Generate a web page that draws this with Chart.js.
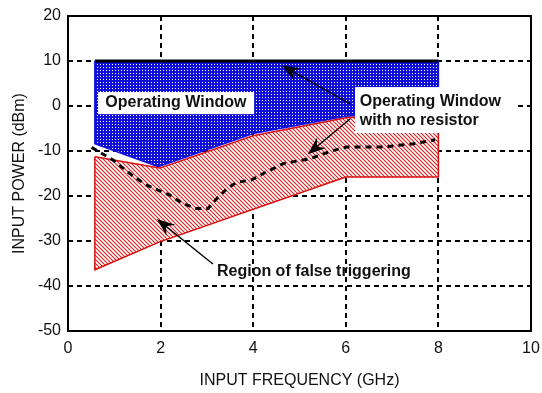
<!DOCTYPE html>
<html>
<head>
<meta charset="utf-8">
<script src="https://cdn.jsdelivr.net/npm/chart.js@4.4.0/dist/chart.umd.min.js"></script>
<style>
  body { margin: 0; background: #fff; }
  #wrap { width: 542px; height: 393px; }
</style>
</head>
<body>
<div id="wrap"><canvas id="chart" width="542" height="393"></canvas></div>
<script>
// Operating window (blue) outline, GHz / dBm
const windowX = [0.58, 8, 8, 6, 4, 1.95, 0.58, 0.58];
const windowY = [10, 10, -1, -2.3, -6.1, -13.5, -8.4, 10];

// Region of false triggering (red) outline
const falseX = [0.58, 1.98, 4, 6, 8, 8, 6, 1.98, 0.58, 0.58];
const falseY = [-11.3, -13.8, -6.6, -2.6, -1.3, -15.8, -15.8, -30.2, -36.4, -11.3];

// Top limit line
const limitX = [0.58, 8];
const limitY = [10, 10];

// Operating window with no resistor (dashed)
const noResX = [0.51, 0.97, 1.37, 1.7, 1.99, 2.2, 2.48, 2.78, 3.02, 3.21, 3.43, 3.64, 3.97, 4.22, 4.65, 5.23, 5.66, 6.02, 6.81, 7.46, 7.93];
const noResY = [-9.2, -12, -15.3, -17.6, -18.9, -19.8, -21.7, -22.8, -22.8, -20.6, -18.4, -17, -16.4, -15, -12.8, -11.7, -10.1, -9.1, -9.1, -8.4, -7.5];

const xTicks = [0, 2, 4, 6, 8, 10];
const yTicks = [20, 10, 0, -10, -20, -30, -40, -50];

const pts = (xs, ys) => xs.map((x, i) => ({ x: x, y: ys[i] }));

function makePattern(kind) {
    const c = document.createElement('canvas');
    const g = c.getContext('2d');
    if (kind === 'blue') {
        c.width = 3; c.height = 3;
        g.fillStyle = '#1010d8';
        g.fillRect(0, 0, 3, 3);
        g.fillStyle = '#ffffff';
        g.fillRect(1, 1, 1, 1);
    } else {
        c.width = 4; c.height = 4;
        g.fillStyle = '#ffffff';
        g.fillRect(0, 0, 4, 4);
        g.strokeStyle = '#e02020';
        g.lineWidth = 1.1;
        g.beginPath();
        g.moveTo(-1, -1); g.lineTo(5, 5);
        g.moveTo(-1, 3); g.lineTo(1, 5);
        g.moveTo(3, -1); g.lineTo(5, 1);
        g.stroke();
    }
    return g.createPattern(c, 'repeat');
}

// Notes and arrows, in data units
const arrows = [
    { from: [6.09, 0.5], to: [4.62, 9.0] },
    { from: [6.09, -2.9], to: [5.18, -10.7] },
    { from: [3.13, -35.1], to: [1.92, -25.1] }
];

const notesPlugin = {
    id: 'notes',
    afterDraw(chart) {
        const ctx = chart.ctx;
        const xs = chart.scales.x, ys = chart.scales.y;
        const px = v => xs.getPixelForValue(v);
        const py = v => ys.getPixelForValue(v);
        const a = chart.chartArea;
        ctx.save();

        // arrows
        ctx.strokeStyle = '#000';
        ctx.fillStyle = '#000';
        ctx.lineWidth = 1.4;
        arrows.forEach(ar => {
            const x1 = px(ar.from[0]), y1 = py(ar.from[1]);
            const x2 = px(ar.to[0]), y2 = py(ar.to[1]);
            const ang = Math.atan2(y2 - y1, x2 - x1);
            ctx.beginPath();
            ctx.moveTo(x1, y1);
            ctx.lineTo(x2 - 8 * Math.cos(ang), y2 - 8 * Math.sin(ang));
            ctx.stroke();
            const L = 18, W = 7;
            ctx.beginPath();
            ctx.moveTo(x2, y2);
            ctx.lineTo(x2 - L * Math.cos(ang) + W * Math.sin(ang), y2 - L * Math.sin(ang) - W * Math.cos(ang));
            ctx.lineTo(x2 - 0.65 * L * Math.cos(ang), y2 - 0.65 * L * Math.sin(ang));
            ctx.lineTo(x2 - L * Math.cos(ang) - W * Math.sin(ang), y2 - L * Math.sin(ang) + W * Math.cos(ang));
            ctx.closePath();
            ctx.fill();
        });

        // labels
        ctx.font = 'bold 16px "Liberation Sans", Arial, sans-serif';
        ctx.textBaseline = 'middle';
        ctx.fillStyle = '#fff';
        ctx.fillRect(px(0.65), py(3.1), px(4.02) - px(0.65), py(-1.8) - py(3.1));
        ctx.fillRect(px(6.2), py(4.2), px(9.72) - px(6.2), py(-6) - py(4.2));
        ctx.fillStyle = '#111';
        ctx.textAlign = 'center';
        ctx.fillText('Operating Window', px(2.33), py(0.67));
        ctx.textAlign = 'left';
        ctx.fillText('Operating Window', px(6.3), py(1.0));
        ctx.fillText('with no resistor', px(6.3), py(-3.3));
        ctx.textAlign = 'center';
        ctx.fillText('Region of false triggering', px(5.31), py(-36.9));

        // frame
        ctx.strokeStyle = '#000';
        ctx.lineWidth = 2;
        ctx.strokeRect(a.left, a.top, a.right - a.left, a.bottom - a.top);
        ctx.restore();
    }
};

const tickFont = { family: '"Liberation Sans", Arial, sans-serif', size: 16 };

new Chart(document.getElementById('chart').getContext('2d'), {
    type: 'line',
    data: {
        datasets: [
            {
                label: 'Operating Window',
                data: pts(windowX, windowY),
                borderColor: '#1010e0',
                borderWidth: 1.5,
                backgroundColor: makePattern('blue'),
                fill: 'shape',
                pointRadius: 0,
                tension: 0,
                order: 3
            },
            {
                label: 'Region of false triggering',
                data: pts(falseX, falseY),
                borderColor: '#d41010',
                borderWidth: 1.5,
                backgroundColor: makePattern('red'),
                fill: 'shape',
                pointRadius: 0,
                tension: 0,
                order: 2
            },
            {
                label: 'Limit',
                data: pts(limitX, limitY),
                borderColor: '#000',
                borderWidth: 3,
                fill: false,
                pointRadius: 0,
                order: 1
            },
            {
                label: 'Operating Window with no resistor',
                data: pts(noResX, noResY),
                borderColor: '#000',
                borderWidth: 3,
                borderDash: [6, 5],
                fill: false,
                pointRadius: 0,
                tension: 0,
                order: 0
            }
        ]
    },
    options: {
        responsive: false,
        animation: false,
        layout: { padding: { left: 6, right: 11, top: 16, bottom: 0 } },
        plugins: {
            legend: { display: false },
            tooltip: { enabled: false }
        },
        scales: {
            x: {
                type: 'linear',
                min: 0,
                max: 10,
                z: 1,
                afterBuildTicks: s => { s.ticks = xTicks.map(v => ({ value: v })); },
                afterFit: s => { s.height = 62; s.paddingLeft = 0; s.paddingRight = 0; },
                ticks: { color: '#111', font: tickFont, padding: 8 },
                grid: { color: '#000', lineWidth: 2, drawTicks: false },
                border: { display: false, dash: [5, 4] },
                title: {
                    display: true,
                    text: 'INPUT FREQUENCY (GHz)',
                    color: '#111',
                    font: tickFont,
                    padding: { top: 14, bottom: 3 }
                }
            },
            y: {
                type: 'linear',
                min: -50,
                max: 20,
                z: 1,
                afterBuildTicks: s => { s.ticks = yTicks.map(v => ({ value: v })); },
                afterFit: s => { s.width = 62; s.paddingTop = 0; s.paddingBottom = 0; },
                ticks: { color: '#111', font: tickFont, padding: 7 },
                grid: { color: '#000', lineWidth: 2, drawTicks: false },
                border: { display: false, dash: [5, 4] },
                title: {
                    display: true,
                    text: 'INPUT POWER (dBm)',
                    color: '#111',
                    font: tickFont,
                    padding: { bottom: 2 }
                }
            }
        }
    },
    plugins: [notesPlugin]
});
</script>
</body>
</html>
